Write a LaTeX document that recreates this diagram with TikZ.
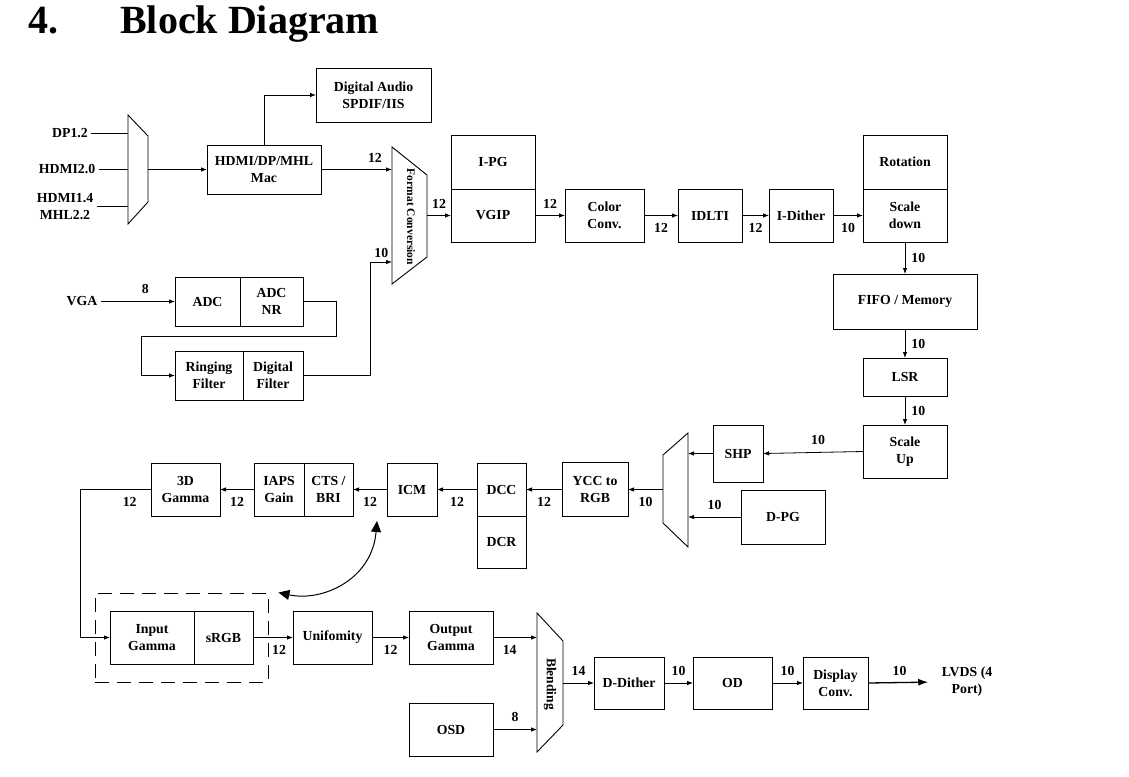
\documentclass[tikz,border=0pt]{standalone}
\usepackage{fontspec}
\setmainfont{Liberation Serif}
\usetikzlibrary{arrows.meta, positioning, fit}

\begin{document}
\begin{tikzpicture}[
  x=1pt, y=-1pt,
  every node/.style={font=\fontsize{13.8}{16.8}\selectfont\bfseries},
  blk/.style={draw, line width=0.9pt, align=center, inner sep=2pt, outer sep=0pt},
  sz/.style 2 args={minimum width=#1, minimum height=#2},
  mux/.style={draw, line width=0.9pt},
  ln/.style={line width=0.8pt},
  arr/.style={ln, -{Latex[length=6pt,width=4.5pt]}},
  outarr/.style={line width=1.3pt, -{Latex[length=10pt,width=7pt]}},
  dbl/.style={line width=1pt, {Triangle[length=11pt,width=10pt]}-{Triangle[length=11pt,width=10pt]}},
  bits/.style={inner sep=4pt},
  gbox/.style={draw, line width=0.9pt, dash pattern=on 14pt off 8pt, inner xsep=15pt, inner ysep=18pt},
  ttl/.style={anchor=base west, inner sep=0pt, font=\fontsize{40}{44}\selectfont\bfseries},
]
\useasboundingbox (0,0) rectangle (1129,776);

% heading
\node[ttl] (secno) at (28,34) {4.};
\node[ttl] (sectitle) at (120,34) {Block Diagram};

% digital inputs
\node (dp) at (70,133) {DP1.2};
\node (hdmi20) at (67,169.5) {HDMI2.0};
\node[align=center] (hdmi14) at (65,206.5) {HDMI1.4\\MHL2.2};
\draw[mux] (128,115) -- (148,136) -- (148,202) -- (128,224) -- cycle;
\coordinate (imxA) at (128,133);
\coordinate (imxB) at (128,169.5);
\coordinate (imxC) at (128,206.5);
\coordinate (imxO) at (148,169.5);

\node[blk, sz={114}{49}] (hdmi) at (264,169.5) {HDMI/DP/MHL\\Mac};
\node[blk, sz={115}{54}] (audio) at (373.5,95) {Digital Audio\\SPDIF/IIS};

% analog input
\node (vga) at (82,301.5) {VGA};
\node[blk, sz={65}{49}] (adc) at (207.5,301.5) {ADC};
\node[blk, sz={63}{49}, right=0pt of adc] (adcnr) {ADC\\NR};
\node[blk, sz={68}{49}] (ring) at (209,375.5) {Ringing\\Filter};
\node[blk, sz={60}{49}, right=0pt of ring] (dfilt) {Digital\\Filter};

% format conversion
\draw[mux] (392,147) -- (427,175) -- (427,257) -- (392,284) -- cycle;
\node[rotate=-90, font=\fontsize{11.5}{13}\selectfont\bfseries] (fmtlbl) at (411,217) {Format Conversion};
\coordinate (fmtA) at (392,169.5);
\coordinate (fmtB) at (392,262);
\coordinate (fmtO) at (427,215.5);

% input path
\node[blk, sz={84}{53}] (vgip) at (493,215.5) {VGIP};
\node[blk, sz={84}{54}, above=0pt of vgip] (ipg) {I-PG};
\node[blk, sz={79}{53}] (colconv) at (604.5,215.5) {Color\\Conv.};
\node[blk, sz={64}{53}] (idlti) at (710,215.5) {IDLTI};
\node[blk, sz={64}{53}] (idither) at (801,215.5) {I-Dither};
\node[blk, sz={84}{53}] (sdown) at (905,215.5) {Scale\\down};
\node[blk, sz={84}{54}, above=0pt of sdown] (rot) {Rotation};
\node[blk, sz={144}{55}] (fifo) at (905,301.5) {FIFO / Memory};
\node[blk, sz={84}{38}] (lsr) at (905,377) {LSR};
\node[blk, sz={84}{53}] (sup) at (905,451.5) {Scale\\Up};

% display path
\node[blk, sz={50}{57}] (shp) at (738,453.5) {SHP};
\node[blk, sz={84}{54}] (dpg) at (783,517) {D-PG};
\draw[mux] (688,433) -- (688,547) -- (663,523) -- (663,455) -- cycle;
\coordinate (omxA) at (688,453.5);
\coordinate (omxB) at (688,517);
\coordinate (omxO) at (663,489.5);
\node[blk, sz={66}{54}] (ycc) at (595,489.5) {YCC to\\RGB};
\node[blk, sz={49}{53}] (dcc) at (501.5,489.5) {DCC};
\node[blk, sz={49}{52}, below=0pt of dcc] (dcr) {DCR};
\node[blk, sz={50}{53}] (icm) at (412,489.5) {ICM};
\node[blk, sz={49}{53}] (cts) at (328.5,489.5) {CTS /\\BRI};
\node[blk, sz={50}{53}, left=0pt of cts] (iaps) {IAPS\\Gain};
\node[blk, sz={69}{53}] (gam3d) at (185.5,489.5) {3D\\Gamma};

\node[blk, sz={84}{53}] (ingam) at (152,637.5) {Input\\Gamma};
\node[blk, sz={59}{53}, right=0pt of ingam] (srgb) {sRGB};
\node[gbox, fit=(ingam)(srgb)] (gbx) {};
\node[blk, sz={79}{53}] (unif) at (332.5,637.5) {Unifomity};
\node[blk, sz={84}{53}] (outgam) at (451,637.5) {Output\\Gamma};
\node[blk, sz={84}{53}] (osd) at (451,729.5) {OSD};

\draw[mux] (537,613) -- (563,641) -- (563,725) -- (537,752) -- cycle;
\node[rotate=-90, font=\fontsize{13.5}{15}\selectfont\bfseries] (blendlbl) at (550,684) {Blending};
\coordinate (blnA) at (537,637.5);
\coordinate (blnB) at (537,729.5);
\coordinate (blnO) at (563,683);

\node[blk, sz={70}{52}] (ddith) at (629,683) {D-Dither};
\node[blk, sz={79}{52}] (od) at (732.5,683) {OD};
\node[blk, sz={65}{52}] (dconv) at (835.5,683) {Display\\Conv.};
\node[align=center] (lvds) at (967,682) {LVDS (4\\Port)};

\coordinate (cmtop) at (377,521);

% connections
\draw[ln] (dp.east) -- (imxA);
\draw[ln] (hdmi20.east) -- (imxB);
\draw[ln] (hdmi14.east) -- (imxC);
\draw[arr] (imxO) -- (hdmi.west);
\draw[arr] (hdmi.north) |- (audio.west);
\draw[arr] (hdmi.east) -- node[bits, above=3pt, pos=0.76] (b1) {12} (fmtA);
\draw[arr] (vga.east) -- node[bits, above=3pt, pos=0.6] (b2) {8} (adc.west);
\draw[arr] (adcnr.east) -| ++(33,35) -| ([xshift=-34]ring.west) -- (ring.west);
\draw[arr] (dfilt.east) -| ([xshift=-22]fmtB) node[bits, above right=0pt] (b3) {10} -- (fmtB);
\draw[arr] (fmtO) -- node[bits, above=3pt] (b4) {12} (vgip.west);
\draw[arr] (vgip.east) -- node[bits, above=3pt] (b5) {12} (colconv.west);
\draw[arr] (colconv.east) -- node[bits, below=3pt] (b6) {12} (idlti.west);
\draw[arr] (idlti.east) -- node[bits, below=3pt] (b7) {12} (idither.west);
\draw[arr] (idither.east) -- node[bits, below=3pt] (b8) {10} (sdown.west);
\draw[arr] (sdown.south) -- node[bits, right=2pt] (b9) {10} (fifo.north);
\draw[arr] (fifo.south) -- node[bits, right=2pt] (b10) {10} (lsr.north);
\draw[arr] (lsr.south) -- node[bits, right=2pt] (b11) {10} (sup.north);
\draw[arr] (sup.west) -- node[bits, above=3pt, pos=0.45] (b12) {10} (shp.east);
\draw[arr] (shp.west) -- (omxA);
\draw[arr] (dpg.west) -- node[bits, above=3pt] (b13) {10} (omxB);
\draw[arr] (omxO) -- node[bits, below=3pt] (b14) {10} (ycc.east);
\draw[arr] (ycc.west) -- node[bits, below=3pt] (b15) {12} (dcc.east);
\draw[arr] (dcc.west) -- node[bits, below=3pt] (b16) {12} (icm.east);
\draw[arr] (icm.west) -- node[bits, below=3pt] (b17) {12} (cts.east);
\draw[arr] (iaps.west) -- node[bits, below=3pt] (b18) {12} (gam3d.east);
\draw[arr] (gam3d.west) -- node[bits, below=3pt, pos=0.3] (b19) {12} ++(-71,0) |- (ingam.west);
\draw[dbl] (cmtop) .. controls (372,580) and (322,602) .. ([xshift=10]gbx.north east);
\draw[arr] (srgb.east) -- node[bits, below=3pt, pos=0.65] (b20) {12} (unif.west);
\draw[arr] (unif.east) -- node[bits, below=3pt] (b21) {12} (outgam.west);
\draw[arr] (outgam.east) -- node[bits, below=3pt, pos=0.38] (b22) {14} (blnA);
\draw[arr] (osd.east) -- node[bits, above=3pt] (b23) {8} (blnB);
\draw[arr] (blnO) -- node[bits, above=3pt] (b24) {14} (ddith.west);
\draw[arr] (ddith.east) -- node[bits, above=3pt] (b25) {10} (od.west);
\draw[arr] (od.east) -- node[bits, above=3pt] (b26) {10} (dconv.west);
\draw[outarr, shorten >=10pt] (dconv.east) -- node[bits, above=2pt, pos=0.45] (b27) {10} (lvds.west);

\end{tikzpicture}
\end{document}
